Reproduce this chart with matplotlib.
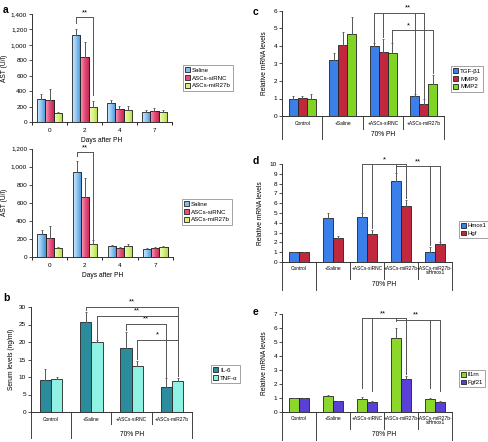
import matplotlib
matplotlib.use('Agg')
import matplotlib.pyplot as plt
import numpy as np
from matplotlib.patches import Patch
from matplotlib.colors import LinearSegmentedColormap

plt.rcParams['font.family'] = ['Liberation Sans', 'DejaVu Sans']

W, H = 489, 442
fig = plt.figure(figsize=(W / 100, H / 100), dpi=100)

# ---------------- data ----------------
days = ['0', '2', '4', '7']
a_series = ['Saline', 'ASCs-siRNC', 'ASCs-miR27b']
a1_saline = [298, 1130, 243, 125]
a1_saline_err = [62, 80, 38, 33]
a1_sirnc = [288, 843, 168, 138]
a1_sirnc_err = [145, 200, 35, 43]
a1_mir = [120, 195, 162, 128]
a1_mir_err = [8, 80, 40, 25]

a2_saline = [255, 940, 118, 85]
a2_saline_err = [45, 120, 12, 10]
a2_sirnc = [205, 665, 97, 96]
a2_sirnc_err = [140, 215, 10, 18]
a2_mir = [105, 140, 117, 106]
a2_mir_err = [5, 45, 22, 14]

groups4 = ['Control', '+Saline', '+ASCs-siRNC', '+ASCs-miR27b']
groups5 = ['Control', '+Saline', '+ASCs-siRNC', '+ASCs-miR27b', '+ASCs-miR27b-\nsiHmox1']
group_label = '70% PH'

b_series = ['IL-6', 'TNF-α']
b_il6 = [9.1, 25.8, 18.3, 7.2]
b_il6_err = [3.2, 2.8, 4.7, 2.4]
b_tnf = [9.5, 20.0, 13.2, 8.9]
b_tnf_err = [0.6, 0.5, 1.5, 0.9]

c_series = ['TGF-β1', 'MMP9', 'MMP2']
c_tgf = [1.0, 3.2, 4.0, 1.14]
c_tgf_err = [0.12, 0.42, 0.17, 0.1]
c_mmp9 = [1.05, 4.06, 3.68, 0.68]
c_mmp9_err = [0.1, 0.75, 0.7, 0.29]
c_mmp2 = [1.0, 4.67, 3.59, 1.84]
c_mmp2_err = [0.23, 0.96, 0.56, 0.51]

d_series = ['Hmox1', 'Hgf']
d_hmox1 = [1.0, 4.52, 4.59, 8.23, 1.05]
d_hmox1_err = [0.05, 0.45, 0.38, 0.82, 0.45]
d_hgf = [1.0, 2.42, 2.86, 5.68, 1.87]
d_hgf_err = [0.05, 0.2, 0.37, 0.65, 0.13]

e_series = ['Il1rn', 'Fgf21']
e_il1rn = [1.0, 1.12, 0.95, 5.27, 0.9]
e_il1rn_err = [0.02, 0.08, 0.1, 0.73, 0.12]
e_fgf21 = [1.0, 0.81, 0.74, 2.38, 0.69]
e_fgf21_err = [0.01, 0.01, 0.07, 0.22, 0.09]

# significance brackets: (legs [(group, series, bottom)], top, star, star_x, star_y)
a1_sig = [([(1, 0, 1280), (1, 2, 345)], 1357, '**', None, 1370)]
a2_sig = [([(1, 0, 1115), (1, 2, 196)], 1163, '**', None, 1170)]
b_sig = [
    ([(1, 0, 29.1), (3, 1, 10.2)], 30.0, '**', None, 30.4),
    ([(1, 1, 20.8), (3, 1, 10.2)], 27.5, '**', None, 27.9),
    ([(2, 0, 23.3), (3, 0, 10.0)], 25.2, '**', None, 25.6),
    ([(2, 1, 15.1), (3, 1, 10.2)], 20.6, '*', None, 21.0),
]
c_sig = [
    ([(2, 0, 4.25), (2, 1, 4.5), (3, 0, 1.3), (3, 1, 1.02)], 5.9, '**', 2.62, 5.95),
    ([(2, 2, 4.25), (3, 2, 2.45)], 4.91, '*', 2.62, 4.95),
]
d_sig = [
    ([(2, 0, 5.14), (2, 1, 3.43), (3, 0, 9.2), (3, 1, 6.5)], 10.0, '*', 2.5, 10.1),
    ([(3, 0, 9.2), (3, 1, 6.5), (4, 0, 1.73), (4, 1, 2.14)], 9.83, '**', 3.5, 9.9),
]
e_sig = [
    ([(2, 0, 1.73), (2, 1, 1.5), (3, 0, 6.48), (3, 1, 2.68)], 6.72, '**', 2.47, 6.78),
    ([(3, 0, 6.48), (3, 1, 2.68), (4, 0, 1.73), (4, 1, 1.5)], 6.6, '**', 3.45, 6.66),
]

FS = 4.6
GRAY = '#555555'


def axes_px(l, t, r, b):
    return fig.add_axes([l / W, 1 - b / H, (r - l) / W, (b - t) / H])


def bar_x(g, s, n, w):
    return g + (s - (n - 1) / 2) * w


def style_axes(ax, ymax, ystep, fmt=None):
    ax.set_ylim(0, ymax)
    ticks = [i * ystep for i in range(int(round(ymax / ystep)) + 1)]
    ax.set_yticks(ticks)
    if fmt:
        ax.set_yticklabels([fmt(t) for t in ticks])
    ax.tick_params(axis='y', labelsize=FS, length=2, width=0.6, pad=1.5, color='#333333')
    for sp in ['top', 'right']:
        ax.spines[sp].set_visible(False)
    for sp in ['left', 'bottom']:
        ax.spines[sp].set_linewidth(0.7)
        ax.spines[sp].set_color('#333333')


def draw_bars(ax, series_vals, series_errs, colors, w, gradients=None):
    n = len(series_vals)
    for s, (vals, errs, c) in enumerate(zip(series_vals, series_errs, colors)):
        xs = [bar_x(g, s, n, w) for g in range(len(vals))]
        bars = ax.bar(xs, vals, width=w, color=c, edgecolor='#222222', linewidth=0.6, zorder=2)
        if gradients is not None:
            cmap = LinearSegmentedColormap.from_list('g%d' % s, gradients[s])
            grad = np.linspace(0, 1, 64).reshape(1, -1)
            for b in bars:
                x0, y0 = b.get_x(), b.get_y()
                im = ax.imshow(grad, cmap=cmap, aspect='auto', zorder=2.1,
                               extent=(x0, x0 + b.get_width(), y0, y0 + b.get_height()))
                im.set_clip_path(b)
            # re-draw edges on top
            ax.bar(xs, vals, width=w, fill=False, edgecolor='#222222', linewidth=0.6, zorder=2.2)
        ax.errorbar(xs, vals, yerr=[[0] * len(vals), errs], fmt='none', ecolor='#555555',
                    elinewidth=0.7, capsize=0.8, capthick=0.6, zorder=3)
    ax.set_xlim(-0.5, len(series_vals[0]) - 0.5)


def draw_sig(ax, sigs, n, w):
    for legs, top, star, sx, sy in sigs:
        xs = [bar_x(g, s, n, w) for g, s, _ in legs]
        for (g, s, bot), x in zip(legs, xs):
            ax.plot([x, x], [bot, top], color=GRAY, lw=0.7, clip_on=False, zorder=4)
        ax.plot([min(xs), max(xs)], [top, top], color=GRAY, lw=0.7, clip_on=False, zorder=4)
        if sx is None:
            sx = (min(xs) + max(xs)) / 2
        ax.text(sx, sy, star, ha='center', va='bottom', fontsize=5.5, clip_on=False)


def cat_table(ax, labels, axis_h, short_px, long_px, lab_px, grp_px):
    n = len(labels)
    tr = ax.get_xaxis_transform()
    for i in range(n + 1):
        x = i - 0.5
        L = long_px if i in (0, 1, n) else short_px
        ax.plot([x, x], [0, -L / axis_h], transform=tr, clip_on=False, color='#444444', lw=0.7)
    for i, lab in enumerate(labels):
        ax.text(i, -lab_px / axis_h, lab, transform=tr, ha='center', va='top',
                fontsize=3.5, linespacing=1.0)
    ax.text((1 + n - 1) / 2, -grp_px / axis_h, group_label, transform=tr,
            ha='center', va='center', fontsize=4.8)
    ax.set_xticks([])


def legend(ax, labels, colors, x0, y0, fs=4.6):
    handles = [Patch(facecolor=c, edgecolor='#222222', linewidth=0.6) for c in colors]
    leg = ax.legend(handles, labels, loc='upper left', bbox_to_anchor=(x0 / W, 1 - y0 / H),
                    bbox_transform=fig.transFigure, fontsize=fs, frameon=True, fancybox=False,
                    handlelength=0.8, handleheight=0.8, handletextpad=0.35,
                    labelspacing=0.4, borderpad=0.35, borderaxespad=0)
    leg.get_frame().set_edgecolor('#777777')
    leg.get_frame().set_linewidth(0.6)


def thousands(v):
    return f'{int(v):,}'


def a_axis(ax):
    ax.set_xticks(range(4))
    ax.set_xticklabels(days)
    ax.set_xticks([-0.5, 0.5, 1.5, 2.5, 3.5], minor=True)
    ax.tick_params(axis='x', which='major', length=0, labelsize=FS, pad=4)
    ax.tick_params(axis='x', which='minor', length=2.5, width=0.6)
    ax.set_xlabel('Days after PH', fontsize=4.8, labelpad=3)
    ax.set_ylabel('AST (U/l)', fontsize=4.8, labelpad=2)


# ---------------- panel a (top) ----------------
a_colors = ['#86bdee', '#e5507c', '#d6f27e']
a_grad = [['#d4ecfc', '#8cc4f0', '#4a8fd8'],
          ['#f7a6bf', '#e5507c', '#c42a55'],
          ['#f4fcc8', '#d6f27e', '#b2d94a']]
wa = 0.23
ax = axes_px(32, 14, 172, 122)
draw_bars(ax, [a1_saline, a1_sirnc, a1_mir], [a1_saline_err, a1_sirnc_err, a1_mir_err],
          a_colors, wa, a_grad)
style_axes(ax, 1400, 200, thousands)
a_axis(ax)
draw_sig(ax, a1_sig, 3, wa)
legend(ax, a_series, a_colors, 183, 65, 4.4)

# ---------------- panel a (bottom) ----------------
ax = axes_px(32, 148.7, 173, 257)
draw_bars(ax, [a2_saline, a2_sirnc, a2_mir], [a2_saline_err, a2_sirnc_err, a2_mir_err],
          a_colors, wa, a_grad)
style_axes(ax, 1200, 200, thousands)
a_axis(ax)
draw_sig(ax, a2_sig, 3, wa)
legend(ax, a_series, a_colors, 182, 199, 4.4)

# ---------------- panel b ----------------
b_colors = ['#2b8d9b', '#8ff2e2']
wb = 0.28
ax = axes_px(31, 307, 192, 412)
draw_bars(ax, [b_il6, b_tnf], [b_il6_err, b_tnf_err], b_colors, wb)
style_axes(ax, 30, 5)
ax.set_ylabel('Serum levels (ng/ml)', fontsize=4.8, labelpad=3)
cat_table(ax, groups4, 105, 12, 26, 5, 22)
draw_sig(ax, b_sig, 2, wb)
legend(ax, b_series, b_colors, 211, 365, 4.4)

# ---------------- panel c ----------------
c_colors = ['#3b80ea', '#c1283d', '#80d424']
wc = 0.22
ax = axes_px(282, 11, 444, 116)
draw_bars(ax, [c_tgf, c_mmp9, c_mmp2], [c_tgf_err, c_mmp9_err, c_mmp2_err], c_colors, wc)
style_axes(ax, 6, 1)
ax.set_ylabel('Relative mRNA levels', fontsize=4.8, labelpad=4)
cat_table(ax, groups4, 105, 13, 23, 5, 19)
draw_sig(ax, c_sig, 3, wc)
legend(ax, c_series, c_colors, 451, 66, 4.4)

# ---------------- panel d ----------------
d_colors = ['#3b80ea', '#c1283d']
wd = 0.285
ax = axes_px(282, 164, 452, 262)
draw_bars(ax, [d_hmox1, d_hgf], [d_hmox1_err, d_hgf_err], d_colors, wd)
style_axes(ax, 10, 1)
ax.set_ylabel('Relative mRNA levels', fontsize=4.8, labelpad=4)
cat_table(ax, groups5, 98, 17, 28, 3.5, 22)
draw_sig(ax, d_sig, 2, wd)
legend(ax, d_series, d_colors, 459, 221, 4.3)

# ---------------- panel e ----------------
e_colors = ['#8bd82b', '#5b40d8']
we = 0.285
ax = axes_px(282, 314, 452, 412)
draw_bars(ax, [e_il1rn, e_fgf21], [e_il1rn_err, e_fgf21_err], e_colors, we)
style_axes(ax, 7, 1)
ax.set_ylabel('Relative mRNA levels', fontsize=4.8, labelpad=4)
cat_table(ax, groups5, 98, 17, 28, 3.5, 23)
draw_sig(ax, e_sig, 2, we)
legend(ax, e_series, e_colors, 459, 370, 4.3)

# panel letters
for lab, x, y in [('a', 3, 10), ('b', 3, 298), ('c', 253, 12), ('d', 253, 161), ('e', 253, 312)]:
    fig.text(x / W, 1 - y / H, lab, fontsize=7.5, fontweight='bold', va='center', ha='left')

fig.savefig('out.png', dpi=100)
